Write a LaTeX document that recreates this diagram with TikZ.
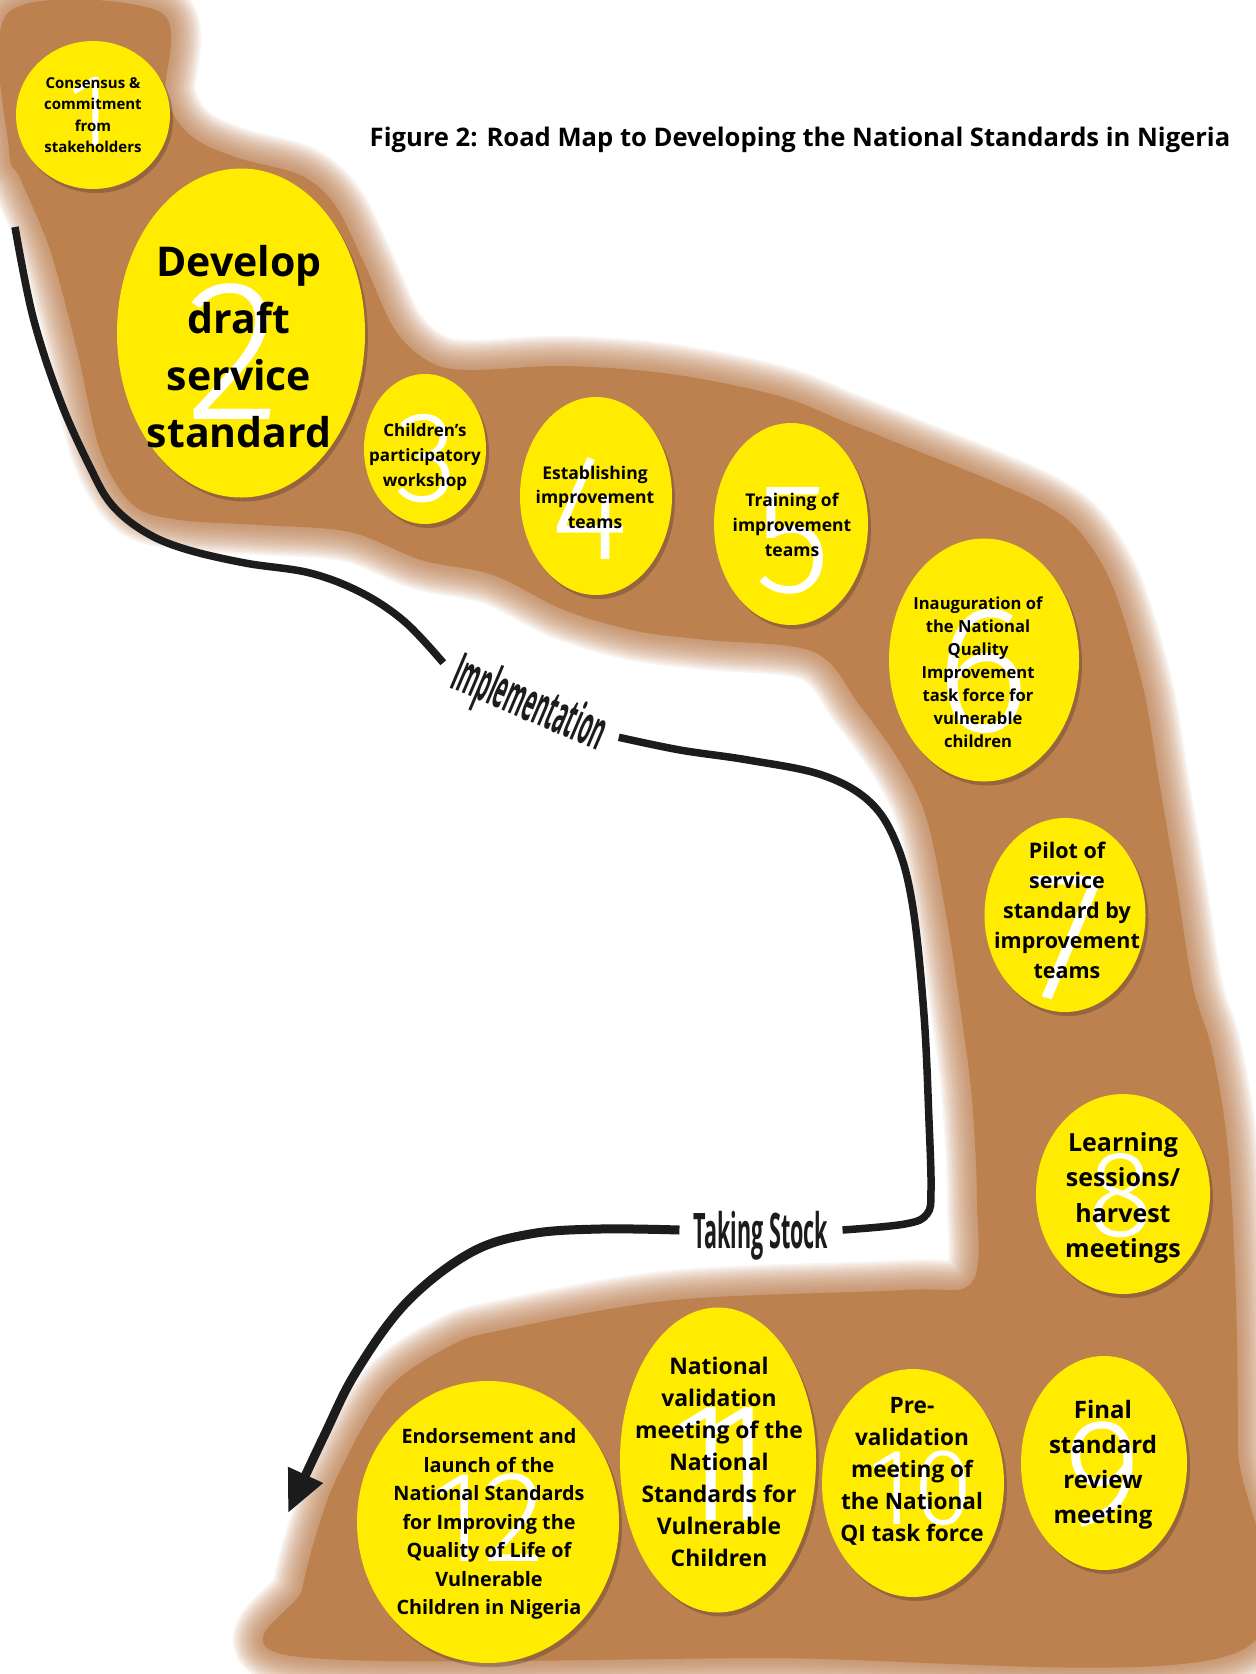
\documentclass[tikz,border=0pt]{standalone}
\usepackage{fontspec}
\usepackage{graphicx}
\setmainfont{Open Sans}
\IfFontExistsTF{Fira Sans Light}{\newfontfamily\digitfont{Fira Sans Light}}{\newfontfamily\digitfont{Fira Sans}}
\usetikzlibrary{shapes.geometric,shadows,arrows.meta,positioning}

\definecolor{roadbrown}{RGB}{189,129,80}
\definecolor{bubbleyellow}{RGB}{255,236,0}
\definecolor{trackblack}{RGB}{28,28,28}

% outline of the road
\newcommand{\roadpath}{plot[smooth cycle, tension=0.55] coordinates {
    (9,12) (160,12) (166,95) (190,135) (235,157) (300,175) (335,205) (365,265)
    (395,330) (430,362) (470,370) (564,366) (671,374) (779,396) (850,424)
    (915,450) (990,480) (1045,505) (1080,532) (1113,587) (1143,687) (1160,787)
    (1177,887) (1193,987) (1212,1050) (1228,1150) (1236,1300) (1238,1450)
    (1238,1652) (760,1658) (292,1656) (302,1590) (316,1535) (338,1475)
    (387,1390) (450,1346) (502,1330) (674,1300) (904,1290) (972,1282)
    (977,1200) (972,1100) (962,1020) (947,920) (927,820) (900,762) (860,706)
    (814,652) (707,640) (636,631) (564,610) (493,575) (421,560) (350,532)
    (260,525) (180,520) (133,505) (100,450) (77,350) (50,250) (20,178) (9,150)}}

\begin{document}
\begin{tikzpicture}[x=1pt, y=-1pt,
    bubble/.style={ellipse, fill=bubbleyellow, inner sep=0pt,
        drop shadow={shadow xshift=3pt, shadow yshift=-4pt, opacity=0.3, fill=black!70!roadbrown}},
    digit/.style={text=white, inner sep=0pt, text depth=0pt},
    steptext/.style={align=center, inner sep=0pt, text=black},
    track/.style={draw=trackblack, line width=7.5pt},
    phase/.style={inner sep=14pt, text depth=0pt, text=trackblack},
    title/.style={font=\bfseries\fontsize{25.6}{30}\selectfont}
]

\fill[white] (0,0) rectangle (1256,1674);
\useasboundingbox (0,0) rectangle (1256,1674);

% Road with soft edges
\foreach \w in {60,56,...,4}{
    \draw[roadbrown, line width=\w pt, opacity=0.09, line join=round] \roadpath;
}
\fill[roadbrown] \roadpath;

% Title
\node[title] (title) at (800,140) {Figure 2: Road Map to Developing the National Standards in Nigeria};

% Steps
\node[bubble, minimum width=154pt, minimum height=148pt] (consensus) at (93,115) {};
\node[digit, font=\digitfont\fontsize{104}{104}\selectfont] (consensus-no) at (90,112) {1};
\node[steptext, font=\bfseries\fontsize{15}{21.4}\selectfont] (consensus-txt) at (93,115)
    {Consensus \&\\commitment\\from\\stakeholders};

\node[bubble, minimum width=248pt, minimum height=329pt] (draft) at (241,333) {};
\node[digit, font=\digitfont\fontsize{201}{201}\selectfont] (draft-no) at (234,352) {2};
\node[steptext, font=\bfseries\fontsize{41}{57}\selectfont] (draft-txt) at (239,347)
    {Develop\\draft\\service\\standard};

\node[bubble, minimum width=122pt, minimum height=150pt] (workshop) at (425,449) {};
\node[digit, font=\digitfont\fontsize{129}{129}\selectfont] (workshop-no) at (427,458) {3};
\node[steptext, font=\bfseries\fontsize{17}{24.6}\selectfont] (workshop-txt) at (425,457)
    {Children’s\\participatory\\workshop};

\node[bubble, minimum width=152pt, minimum height=198pt] (teams) at (596,496) {};
\node[digit, font=\digitfont\fontsize{151}{151}\selectfont] (teams-no) at (590,508) {4};
\node[steptext, font=\bfseries\fontsize{17.5}{24.5}\selectfont] (teams-txt) at (595,497)
    {Establishing\\improvement\\teams};

\node[bubble, minimum width=154pt, minimum height=202pt] (training) at (791,524) {};
\node[digit, font=\digitfont\fontsize{158}{158}\selectfont] (training-no) at (793,540) {5};
\node[steptext, font=\bfseries\fontsize{17.5}{25}\selectfont] (training-txt) at (792,525)
    {Training of\\improvement\\teams};

\node[bubble, minimum width=190pt, minimum height=243pt] (taskforce) at (984,660) {};
\node[digit, font=\digitfont\fontsize{181}{181}\selectfont] (taskforce-no) at (983,670) {6};
\node[steptext, font=\bfseries\fontsize{16.6}{23}\selectfont] (taskforce-txt) at (978,672)
    {Inauguration of\\the National\\Quality\\Improvement\\task force for\\vulnerable\\children};

\node[bubble, minimum width=161pt, minimum height=194pt] (pilot) at (1065,915) {};
\node[digit, font=\digitfont\fontsize{184}{184}\selectfont] (pilot-no) at (1067,937) {7};
\node[steptext, font=\bfseries\fontsize{21.5}{30}\selectfont] (pilot-txt) at (1067,910)
    {Pilot of\\service\\standard by\\improvement\\teams};

\node[bubble, minimum width=174pt, minimum height=200pt] (harvest) at (1123,1194) {};
\node[digit, font=\digitfont\fontsize{123}{123}\selectfont] (harvest-no) at (1121,1195) {8};
\node[steptext, font=\bfseries\fontsize{25}{35.6}\selectfont] (harvest-txt) at (1123,1198)
    {Learning\\sessions/\\harvest\\meetings};

\node[bubble, minimum width=166pt, minimum height=214pt] (review) at (1104,1463) {};
\node[digit, font=\digitfont\fontsize{152}{152}\selectfont] (review-no) at (1103,1473) {9};
\node[steptext, font=\bfseries\fontsize{24}{35}\selectfont] (review-txt) at (1103,1465)
    {Final\\standard\\review\\meeting};

\node[bubble, minimum width=182pt, minimum height=228pt] (prevalid) at (913,1483) {};
\node[digit, font=\digitfont\fontsize{109}{109}\selectfont] (prevalid-no) at (921,1488) {10};
\node[steptext, font=\bfseries\fontsize{22.6}{32}\selectfont] (prevalid-txt) at (912,1471)
    {Pre-\\validation\\meeting of\\the National\\QI task force};

\node[bubble, minimum width=196pt, minimum height=305pt] (validation) at (718,1460) {};
\node[digit, font=\digitfont\fontsize{170}{170}\selectfont] (validation-no) at (720,1464) {1\kern-0.2em1};
\node[steptext, font=\bfseries\fontsize{22.9}{32}\selectfont] (validation-txt) at (719,1462)
    {National\\validation\\meeting of the\\National\\Standards for\\Vulnerable\\Children};

\node[bubble, minimum width=262pt, minimum height=282pt] (launch) at (488,1522) {};
\node[digit, font=\digitfont\fontsize{130}{130}\selectfont] (launch-no) at (488,1518) {12};
\node[steptext, font=\bfseries\fontsize{19.8}{28.5}\selectfont] (launch-txt) at (489,1524)
    {Endorsement and\\launch of the\\National Standards\\for Improving the\\Quality of Life of\\Vulnerable\\Children in Nigeria};

% Phases along the track
\node[phase, rotate=-23, font=\bfseries\fontsize{54}{54}\selectfont] (impl) at (531,700)
    {\scalebox{0.37}[1]{Implementation}};
\node[phase, font=\bfseries\fontsize{49}{49}\selectfont] (stock) at (761,1230)
    {\scalebox{0.44}[1]{Taking Stock}};

\coordinate (trackstart) at (15,227);
\coordinate (tip) at (288,1513);

% Track
\draw[track] plot[smooth, tension=0.6] coordinates {(trackstart) (33,317) (60,400) (90,467)
    (112,505) (145,532) (185,549) (245,563) (310,573) (362,593) (405,622) (impl.west)};
\draw[track] plot[smooth, tension=0.6] coordinates {(impl.east) (680,750) (748,760) (822,775)
    (870,802) (897,845) (913,908) (924,1015) (929,1121) (931,1190) (927,1214) (905,1224) (stock.east)};
\draw[track, line width=9pt, -{Triangle[length=42pt, width=36pt]}] plot[smooth, tension=0.6]
    coordinates {(stock.west) (600,1229) (530,1234) (470,1253) (406,1303) (356,1372) (324,1436) (tip)};

\end{tikzpicture}
\end{document}
